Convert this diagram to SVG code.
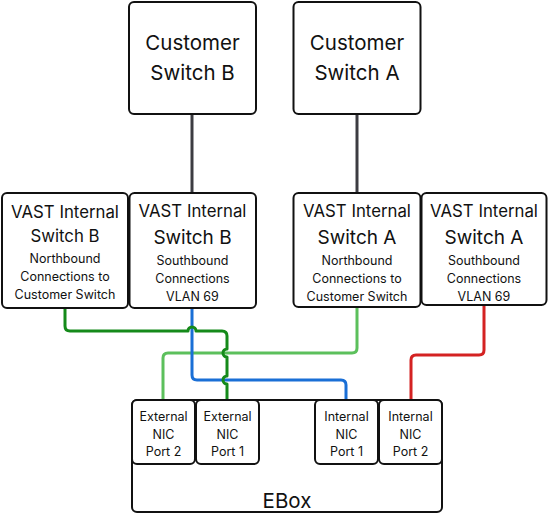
<svg xmlns="http://www.w3.org/2000/svg" width="548" height="513" viewBox="0 0 548 513">
<style>
.box{fill:#fff;stroke:#111;stroke-width:2}
text{font-family:Inter,"Liberation Sans",sans-serif;fill:#111;text-anchor:middle}
.big{font-size:20.5px}
.mid{font-size:16.8px}
.mid2{font-size:19px}
.sm{font-size:12.5px}
.nic{font-size:12.5px}
.c{fill:none;stroke-width:3;stroke-linejoin:round}
</style>
<rect width="548" height="513" fill="#fff"/>
<g id="connectors">
<path class="c" stroke="#3c3c42" d="M192,114 V194"/>
<path class="c" stroke="#3c3c42" d="M357,114 V194"/>
<path class="c" stroke="#5cc05c" d="M357,307 V348 Q357,353 352,353 H168 Q163,353 163,358 V401"/>
<path class="c" stroke="#1a6fd6" d="M192,307 V375 Q192,380 197,380 H341 Q346,380 346,385 V401"/>
<path class="c" stroke="#158a1a" d="M65,307 V326 Q65,331 70,331 H188 A4,4 0 0 1 196,331 H222 Q227,331 227,336 V349 A4,4 0 0 0 227,357 V376 A4,4 0 0 0 227,384 V401"/>
<path class="c" stroke="#d42222" d="M484,304 V350 Q484,355 479,355 H416 Q411,355 411,360 V401"/>
</g>
<g id="customer-switch-b">
<rect class="box" x="129" y="2" width="127" height="112" rx="5"/>
<text class="big" x="192.5" y="50">Customer</text>
<text class="big" x="192.5" y="80">Switch B</text>
</g>
<g id="customer-switch-a">
<rect class="box" x="293.5" y="2" width="127" height="112" rx="5"/>
<text class="big" x="357" y="50">Customer</text>
<text class="big" x="357" y="80">Switch A</text>
</g>
<g id="vast-b-north">
<rect class="box" x="2" y="193" width="126" height="115" rx="5"/>
<text class="mid" x="65" y="218">VAST Internal</text>
<text class="mid" x="65" y="242">Switch B</text>
<text class="sm" x="65" y="263">Northbound</text>
<text class="sm" x="65" y="281">Connections to</text>
<text class="sm" x="65" y="298.5">Customer Switch</text>
</g>
<g id="vast-b-south">
<rect class="box" x="129.5" y="193" width="126.5" height="115" rx="5"/>
<text class="mid" x="192.5" y="217">VAST Internal</text>
<text class="mid2" x="192.5" y="244">Switch B</text>
<text class="sm" x="192.5" y="265">Southbound</text>
<text class="sm" x="192.5" y="283">Connections</text>
<text class="sm" x="192.5" y="301">VLAN 69</text>
</g>
<g id="vast-a-north">
<rect class="box" x="293.5" y="193" width="127" height="114" rx="5"/>
<text class="mid" x="357" y="217">VAST Internal</text>
<text class="mid2" x="357" y="244">Switch A</text>
<text class="sm" x="357" y="265">Northbound</text>
<text class="sm" x="357" y="283">Connections to</text>
<text class="sm" x="357" y="301">Customer Switch</text>
</g>
<g id="vast-a-south">
<rect class="box" x="421.5" y="193" width="125" height="112" rx="5"/>
<text class="mid" x="484" y="217">VAST Internal</text>
<text class="mid2" x="484" y="244">Switch A</text>
<text class="sm" x="484" y="265">Southbound</text>
<text class="sm" x="484" y="283">Connections</text>
<text class="sm" x="484" y="301">VLAN 69</text>
</g>
<g id="ebox">
<rect class="box" x="132" y="400" width="310" height="112" rx="5"/>
<text class="big" x="287" y="508">EBox</text>
</g>
<g id="ext-nic-2">
<rect class="box" x="132" y="400" width="63" height="64" rx="5"/>
<text class="nic" x="163.5" y="421">External</text>
<text class="nic" x="163.5" y="438.5">NIC</text>
<text class="nic" x="163.5" y="456">Port 2</text>
</g>
<g id="ext-nic-1">
<rect class="box" x="196" y="400" width="63" height="64" rx="5"/>
<text class="nic" x="227.5" y="421">External</text>
<text class="nic" x="227.5" y="438.5">NIC</text>
<text class="nic" x="227.5" y="456">Port 1</text>
</g>
<g id="int-nic-1">
<rect class="box" x="315" y="400" width="63" height="64" rx="5"/>
<text class="nic" x="346.5" y="421">Internal</text>
<text class="nic" x="346.5" y="438.5">NIC</text>
<text class="nic" x="346.5" y="456">Port 1</text>
</g>
<g id="int-nic-2">
<rect class="box" x="379" y="400" width="63" height="64" rx="5"/>
<text class="nic" x="410.5" y="421">Internal</text>
<text class="nic" x="410.5" y="438.5">NIC</text>
<text class="nic" x="410.5" y="456">Port 2</text>
</g>
</svg>
